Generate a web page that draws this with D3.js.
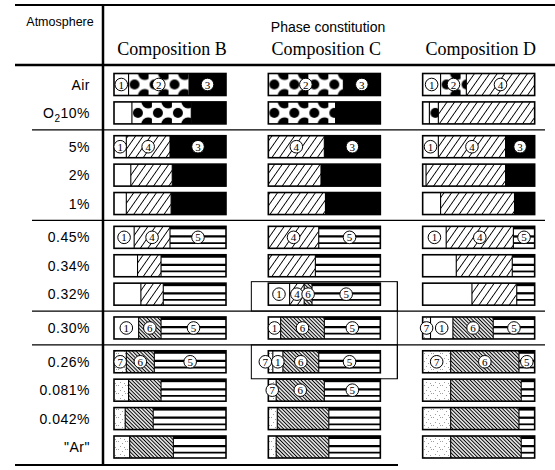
<!DOCTYPE html>
<html>
<head>
<meta charset="utf-8">
<script src="https://cdn.jsdelivr.net/npm/d3@7"></script>
<style>
  body { margin: 0; background: #fff; }
  svg { display: block; }
</style>
</head>
<body>
<svg id="chart" width="555" height="470"></svg>
<script>
var atmospheres = ["Air", "O2 10%", "5%", "2%", "1%", "0.45%", "0.34%", "0.32%", "0.30%", "0.26%", "0.081%", "0.042%", "\"Ar\""];
var sectionOf = [0, 0, 1, 1, 1, 2, 2, 2, 3, 4, 4, 4, 4];
var compositions = ["Composition B", "Composition C", "Composition D"];

// phase constitution for each atmosphere: [phase no., % of bar]
var phasesB = [
  [[1, 13], [2, 54], [3, 33]],
  [[1, 16], [2, 53], [3, 31]],
  [[1, 11], [4, 39], [3, 50]],
  [[1, 15], [4, 37], [3, 48]],
  [[1, 11], [4, 40], [3, 49]],
  [[1, 18], [4, 32], [5, 50]],
  [[1, 21], [4, 21], [5, 58]],
  [[1, 24], [4, 20], [5, 56]],
  [[1, 22], [6, 20], [5, 58]],
  [[7, 11], [6, 25], [5, 64]],
  [[7, 13], [6, 29], [5, 58]],
  [[7, 10], [6, 25], [5, 65]],
  [[7, 14], [6, 39], [5, 47]]
];
var phasesC = [
  [[2, 67], [3, 33]],
  [[2, 60], [3, 40]],
  [[4, 50], [3, 50]],
  [[4, 47], [3, 53]],
  [[4, 51], [3, 49]],
  [[4, 45], [5, 55]],
  [[4, 42], [5, 58]],
  [[1, 19], [4, 13], [6, 7], [5, 61]],
  [[1, 11], [6, 39], [5, 50]],
  [[7, 4], [1, 9], [6, 32], [5, 55]],
  [[7, 7], [6, 43], [5, 50]],
  [[7, 8], [6, 46], [5, 46]],
  [[7, 7], [6, 47], [5, 46]]
];
var phasesD = [
  [[1, 16], [2, 23], [4, 61]],
  [[1, 6], [2, 8], [4, 86]],
  [[1, 14], [4, 60], [3, 26]],
  [[1, 3], [4, 71], [3, 26]],
  [[1, 16], [4, 66], [3, 18]],
  [[1, 21], [4, 60], [5, 19]],
  [[1, 30], [4, 50], [5, 20]],
  [[1, 44], [4, 40], [5, 16]],
  [[7, 7], [1, 20], [6, 36], [5, 37]],
  [[7, 25], [6, 61], [5, 14]],
  [[7, 25], [6, 63], [5, 12]],
  [[7, 25], [6, 61], [5, 14]],
  [[7, 25], [6, 63], [5, 12]]
];
// rows where the phases carry circled numbers
var labelledB = ["Air", "5%", "0.45%", "0.30%", "0.26%"];
var labelledC = ["Air", "5%", "0.45%", "0.32%", "0.30%", "0.26%", "0.081%"];
var labelledD = ["Air", "5%", "0.45%", "0.30%", "0.26%"];
// rows framed in composition C
var boxedC = ["0.32%", "0.26%"];

var phasesByComp = [phasesB, phasesC, phasesD];
var labelledByComp = [labelledB, labelledC, labelledD];

var svg = d3.select("#chart");
var defs = svg.append("defs");

var barH = 22, barW = 112, barInset = 14;
var gapFrac = 0.19;

var y = d3.scaleLinear()
  .domain([0, atmospheres.length - 1 + gapFrac * d3.max(sectionOf)])
  .range([84.5, 447]);
function rowY(i) { return y(i + gapFrac * sectionOf[i]); }

var colBand = d3.scaleBand().domain(compositions).range([100, 563]);
function xScale(c) {
  var x0 = colBand(c) + barInset;
  return d3.scaleLinear().domain([0, 100]).range([x0, x0 + barW]);
}

// shared fills
function hatch(id, w, angle, sw) {
  var p = defs.append("pattern")
    .attr("id", id)
    .attr("patternUnits", "userSpaceOnUse")
    .attr("width", w).attr("height", 10)
    .attr("patternTransform", "rotate(" + angle + ")");
  p.append("rect").attr("width", w).attr("height", 10).attr("fill", "#fff");
  p.append("line").attr("x1", w / 2).attr("x2", w / 2).attr("y1", 0).attr("y2", 10)
    .attr("stroke", "#000").attr("stroke-width", sw);
}
hatch("ph4", 6.2, 35, 0.9);
hatch("ph6", 2.6, -45, 1.1);

var st = defs.append("pattern").attr("id", "ph7")
  .attr("patternUnits", "userSpaceOnUse").attr("width", 9).attr("height", 8);
st.append("rect").attr("width", 9).attr("height", 8).attr("fill", "#fff");
[[1, 1], [5, 3], [3, 6], [7, 7], [8, 1]].forEach(function(d) {
  st.append("rect").attr("x", d[0]).attr("y", d[1]).attr("width", 0.9).attr("height", 0.9)
    .attr("fill", "#888");
});

// dot pattern for phase 2, anchored to the bar
function dotPattern(id, x, top) {
  var p = defs.append("pattern").attr("id", id)
    .attr("patternUnits", "userSpaceOnUse")
    .attr("x", x).attr("y", top).attr("width", 20).attr("height", barH);
  p.append("rect").attr("width", 20).attr("height", barH).attr("fill", "#fff");
  p.append("circle").attr("cx", 6).attr("cy", barH / 2).attr("r", 5).attr("fill", "#000");
  p.append("circle").attr("cx", 16).attr("cy", 0).attr("r", 6.5).attr("fill", "#000");
  p.append("circle").attr("cx", 16).attr("cy", barH).attr("r", 6.5).attr("fill", "#000");
  return "url(#" + id + ")";
}

var fills = { 1: "#fff", 3: "#000", 4: "url(#ph4)", 5: "#fff", 6: "url(#ph6)", 7: "url(#ph7)" };

// table lines
var lines = svg.append("g").attr("stroke", "#000").attr("fill", "none");
lines.append("line").attr("x1", 15).attr("x2", 555).attr("y1", 5).attr("y2", 5).attr("stroke-width", 2);
lines.append("line").attr("x1", 15).attr("x2", 555).attr("y1", 65).attr("y2", 65).attr("stroke-width", 2.5);
lines.append("line").attr("x1", 103).attr("x2", 103).attr("y1", 5).attr("y2", 465).attr("stroke-width", 2.5);
lines.append("line").attr("x1", 15).attr("x2", 398).attr("y1", 465).attr("y2", 465).attr("stroke-width", 2);

var sepY = {};
atmospheres.forEach(function(a, i) {
  if (i > 0 && sectionOf[i] !== sectionOf[i - 1]) {
    var yy = (rowY(i - 1) + rowY(i)) / 2;
    sepY[i] = yy;
    lines.append("line").attr("x1", 32).attr("x2", 545).attr("y1", yy).attr("y2", yy)
      .attr("stroke-width", 1.2);
  }
});

// frames around rows in composition C
var xc = xScale("Composition C");
var bx0 = xc(0) - 17, bx1 = xc(100) + 17;
var boxTops = [], boxBots = [];
boxedC.forEach(function(a) {
  var i = atmospheres.indexOf(a);
  var top = sepY[i] !== undefined ? sepY[i] : rowY(i) - 12.5;
  var bot = sepY[i + 1] !== undefined ? sepY[i + 1] : rowY(i) + 17;
  boxTops.push(top); boxBots.push(bot);
  lines.append("rect").attr("x", bx0).attr("y", top).attr("width", bx1 - bx0).attr("height", bot - top)
    .attr("stroke-width", 1);
});
lines.append("line").attr("x1", bx1).attr("x2", bx1)
  .attr("y1", d3.min(boxTops)).attr("y2", d3.max(boxBots)).attr("stroke-width", 1);

// header text
svg.append("text").attr("x", 60).attr("y", 26).attr("text-anchor", "middle")
  .style("font", "12.5px 'Liberation Sans', Arial, sans-serif").text("Atmosphere");
svg.append("text").attr("x", 328).attr("y", 32).attr("text-anchor", "middle")
  .style("font", "14px 'Liberation Sans', Arial, sans-serif").text("Phase constitution");
compositions.forEach(function(c) {
  var xs = xScale(c);
  svg.append("text").attr("x", xs(50) + 2).attr("y", 55).attr("text-anchor", "middle")
    .style("font", "18px 'Liberation Serif', 'Times New Roman', serif").text(c);
});

// row labels
atmospheres.forEach(function(a, i) {
  var t = svg.append("text").attr("x", 90).attr("y", rowY(i) + 5).attr("text-anchor", "end")
    .style("font", "14px 'Liberation Sans', Arial, sans-serif").style("letter-spacing", "0.5px");
  if (a.indexOf("O2") === 0) {
    t.append("tspan").text("O");
    t.append("tspan").attr("dy", 4).style("font-size", "10px").text("2");
    t.append("tspan").attr("dy", -4).text(a.slice(3));
  } else {
    t.text(a);
  }
});

// bars
compositions.forEach(function(c, ci) {
  var xs = xScale(c);
  var g = svg.append("g");
  phasesByComp[ci].forEach(function(segs, i) {
    var top = rowY(i) - barH / 2;
    var ends = d3.cumsum(segs, function(d) { return d[1]; });
    var cells = segs.map(function(d, k) {
      return { phase: d[0], x0: xs(k ? ends[k - 1] : 0), x1: xs(ends[k]) };
    });
    cells.forEach(function(s, k) {
      var fill = s.phase === 2 ? dotPattern("p2_" + ci + "_" + i + "_" + k, s.x0, top) : fills[s.phase];
      g.append("rect").attr("x", s.x0).attr("y", top).attr("width", s.x1 - s.x0).attr("height", barH)
        .attr("fill", fill);
      if (s.phase === 5) {
        g.append("rect").attr("x", s.x0).attr("y", top).attr("width", s.x1 - s.x0).attr("height", 3)
          .attr("fill", "#000");
        [0.46, 0.76].forEach(function(f, j) {
          g.append("line").attr("x1", s.x0).attr("x2", s.x1)
            .attr("y1", top + barH * f).attr("y2", top + barH * f)
            .attr("stroke", "#000").attr("stroke-width", j ? 1.8 : 2.3);
        });
      }
      if (k > 0) {
        g.append("line").attr("x1", s.x0).attr("x2", s.x0).attr("y1", top).attr("y2", top + barH)
          .attr("stroke", "#000").attr("stroke-width", 1.1);
      }
    });
    g.append("rect").attr("x", xs(0)).attr("y", top).attr("width", barW).attr("height", barH)
      .attr("fill", "none").attr("stroke", "#000").attr("stroke-width", 1.6);

    if (labelledByComp[ci].indexOf(atmospheres[i]) >= 0) {
      cells.forEach(function(s, k) {
        var w = s.x1 - s.x0;
        var cx = (k === 0 && w < 6) ? s.x0 - 3 : (s.x0 + s.x1) / 2;
        var lg = g.append("g").attr("transform", "translate(" + cx + "," + rowY(i) + ")");
        lg.append("circle").attr("r", 6.3).attr("fill", "#fff").attr("stroke", "#000").attr("stroke-width", 1);
        lg.append("text").attr("y", 4).attr("text-anchor", "middle")
          .style("font", "11px 'Liberation Serif', serif").text(s.phase);
      });
    }
  });
});
</script>
</body>
</html>
